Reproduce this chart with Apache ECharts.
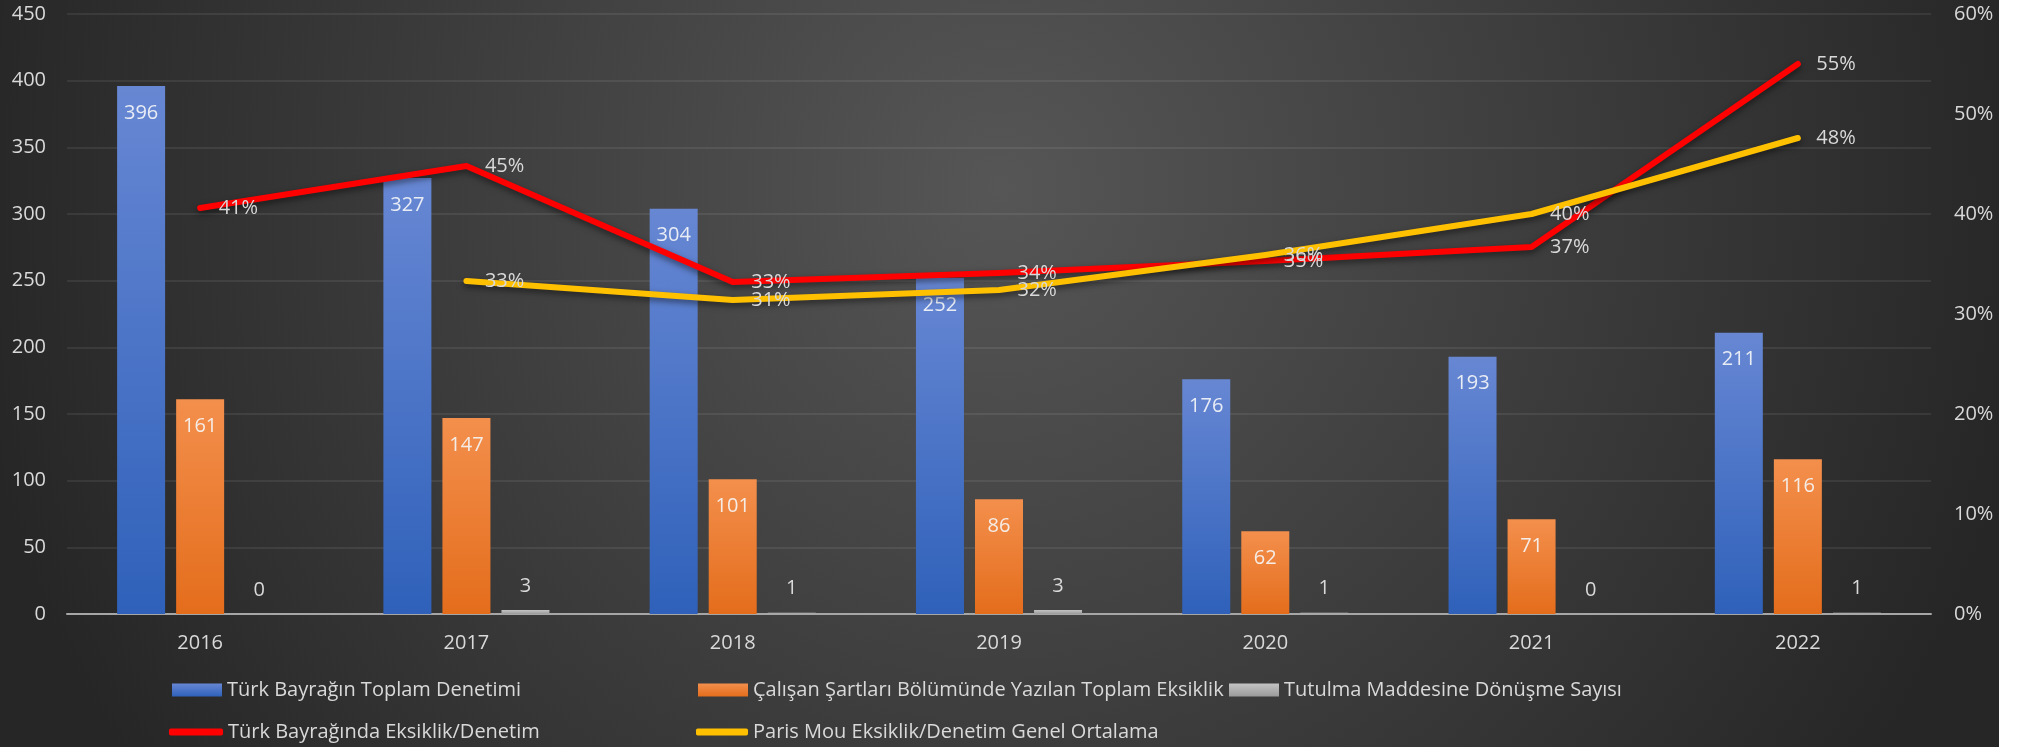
<!DOCTYPE html>
<html><head><meta charset="utf-8">
<script src="https://cdn.jsdelivr.net/npm/echarts@6/dist/echarts.min.js"></script>
<style>html,body{margin:0;padding:0;background:#fff;}#c{width:1999px;height:747px;}</style>
</head><body><div id="c"></div>
<script>
const categories = ['2016','2017','2018','2019','2020','2021','2022'];
const toplamDenetim = [396, 327, 304, 252, 176, 193, 211];
const toplamEksiklik = [161, 147, 101, 86, 62, 71, 116];
const tutulma = [0, 3, 1, 3, 1, 0, 1];
const eksiklikDenetim = [40.6, 44.8, 33.2, 34.1, 35.3, 36.7, 55.0];
const parisMou = [null, 33.3, 31.4, 32.4, 35.9, 40.0, 47.6];
const names = ['Türk Bayrağın Toplam Denetimi','Çalışan Şartları Bölümünde Yazılan Toplam Eksiklik','Tutulma Maddesine Dönüşme Sayısı','Türk Bayrağında Eksiklik/Denetim','Paris Mou Eksiklik/Denetim Genel Ortalama'];

const FONT = '"Open Sans", "Noto Sans", sans-serif';
const TXT = '#d9d9d9';
const FS = 20;
const chart = echarts.init(document.getElementById('c'));
const lg = (name, left, top, icon, w, h) => ({
  data:[name], left:left, top:top, icon:icon, itemWidth:w, itemHeight:h, padding:0,
  textStyle:{color:TXT,fontSize:FS,fontFamily:FONT}, selectedMode:false
});
const lineLabel = {show:true, position:'right', distance:18, color:TXT, fontSize:FS, fontFamily:FONT,
  formatter:p => Math.round(p.value) + '%'};
const lineSeries = (name, data, color, z) => ({
  name:name, type:'line', yAxisIndex:1, data:data, symbol:'circle', symbolSize:1, showSymbol:true,
  itemStyle:{color:color},
  lineStyle:{color:color,width:6,cap:'round',join:'round',shadowColor:'rgba(0,0,0,0.5)',shadowBlur:6,shadowOffsetY:3},
  label:lineLabel, z:z, emphasis:{disabled:true}
});
chart.setOption({
  backgroundColor:{type:'radial',x:0.5,y:0.25,r:1.4,colorStops:[{offset:0,color:'#565656'},{offset:1,color:'#262626'}]},
  animation:false,
  textStyle:{fontFamily:FONT},
  grid:{left:67,right:68,top:14,bottom:133},
  legend:[
    lg(names[0],172,680,'rect',50,13),
    lg(names[1],698,680,'rect',50,13),
    lg(names[2],1229,680,'rect',50,13),
    lg(names[3],169,722,'roundRect',54,7),
    lg(names[4],696,722,'roundRect',52,7)
  ],
  xAxis:{type:'category',data:categories,
    axisLine:{lineStyle:{color:'#a6a6a6',width:2}},axisTick:{show:false},
    axisLabel:{color:TXT,fontSize:FS,fontFamily:FONT,margin:19}},
  yAxis:[
    {type:'value',min:0,max:450,interval:50,
      axisLabel:{color:TXT,fontSize:FS,fontFamily:FONT,margin:21},
      splitLine:{lineStyle:{color:'rgba(255,255,255,0.1)',width:1.5}},axisLine:{show:false}},
    {type:'value',min:0,max:60,interval:10,position:'right',
      axisLabel:{color:TXT,fontSize:FS,fontFamily:FONT,margin:23,formatter:'{value}%'},
      splitLine:{show:false},axisLine:{show:false}}
  ],
  series:[
    {name:names[0],type:'bar',data:toplamDenetim,barWidth:48,barGap:'23%',
      itemStyle:{color:{type:'linear',x:0,y:0,x2:0,y2:1,colorStops:[{offset:0,color:'#6787d3'},{offset:1,color:'#2f61ba'}]}},
      label:{show:true,position:'insideTop',distance:17,color:'#e8ecf5',fontSize:FS,fontFamily:FONT}},
    {name:names[1],type:'bar',data:toplamEksiklik,barWidth:48,barGap:'23%',
      itemStyle:{color:{type:'linear',x:0,y:0,x2:0,y2:1,colorStops:[{offset:0,color:'#f38f4c'},{offset:1,color:'#e46d1c'}]}},
      label:{show:true,position:'insideTop',distance:17,color:'#f5ece6',fontSize:FS,fontFamily:FONT}},
    {name:names[2],type:'bar',data:tutulma,barWidth:48,barGap:'23%',
      itemStyle:{color:{type:'linear',x:0,y:0,x2:0,y2:1,colorStops:[{offset:0,color:'#c4c4c4'},{offset:1,color:'#9a9a9a'}]}},
      label:{show:true,position:'top',distance:14,color:TXT,fontSize:FS,fontFamily:FONT}},
    lineSeries(names[3], eksiklikDenetim, '#ff0000', 5),
    lineSeries(names[4], parisMou, '#ffc000', 6)
  ]
});
</script></body></html>
